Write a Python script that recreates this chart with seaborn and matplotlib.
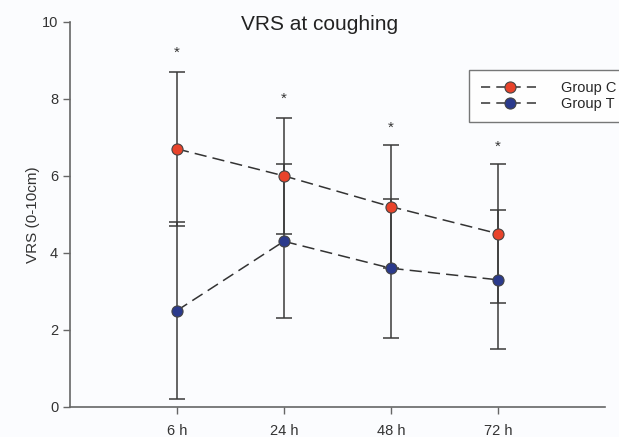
import pandas as pd
import matplotlib.pyplot as plt
import seaborn as sns

# values
times = ['6 h', '24 h', '48 h', '72 h']
group_c = [6.7, 6.0, 5.2, 4.5]
group_c_sd = [2.0, 1.5, 1.6, 1.8]
group_t = [2.5, 4.3, 3.6, 3.3]
group_t_sd = [2.3, 2.0, 1.8, 1.8]
star_y = [9.2, 8.0, 7.25, 6.75]

pos = list(range(1, len(times) + 1))
df = pd.DataFrame({
    'pos': pos * 2,
    'vrs': group_c + group_t,
    'group': ['Group C'] * 4 + ['Group T'] * 4,
})

sns.set_style('white')
plt.rcParams['font.family'] = ['Liberation Sans', 'DejaVu Sans']

fig = plt.figure(figsize=(6.19, 4.37), dpi=100, facecolor='#fbfcfe')
ax = fig.add_axes([0.113, 0.069, 0.864, 0.881])
ax.set_facecolor('#fbfcfe')

colors = {'Group C': '#e8432b', 'Group T': '#2b3a8c'}
sns.lineplot(data=df, x='pos', y='vrs', hue='group', palette=colors,
             marker='o', markersize=8, linewidth=1.1, ax=ax, zorder=3)
lines = [l for l in ax.get_lines() if len(l.get_xdata()) == len(times)]
for line, g in zip(lines, ['Group C', 'Group T']):
    line.set_color('#333333')
    line.set_dashes([8, 4])
    line.set_markerfacecolor(colors[g])
    line.set_markeredgecolor('#444444')
    line.set_markeredgewidth(0.8)

handles, labels = ax.get_legend_handles_labels()
for h, g in zip(handles, labels):
    h.set_color('#333333')
    h.set_dashes([6, 4])
    h.set_markerfacecolor(colors[g])
    h.set_markeredgecolor('#444444')
    h.set_markeredgewidth(0.8)

# error bars, solid, under the markers
ax.errorbar(pos, group_c, yerr=group_c_sd, fmt='none', ecolor='#3a3a3a',
            elinewidth=1.1, capsize=6, capthick=1.1, zorder=2)
ax.errorbar(pos, group_t, yerr=group_t_sd, fmt='none', ecolor='#3a3a3a',
            elinewidth=1.1, capsize=6, capthick=1.1, zorder=2)

for x, y in zip(pos, star_y):
    ax.text(x, y, '*', ha='center', va='center', fontsize=11, color='#333333')

ax.set_xlim(0, 5)
ax.set_ylim(0, 10)
ax.set_xticks(pos)
ax.set_xticklabels(times)
ax.set_yticks([0, 2, 4, 6, 8, 10])
ax.tick_params(axis='both', direction='out', length=5, width=1, color='#666666',
               labelsize=10.5, labelcolor='#333333', left=True, bottom=True)
ax.tick_params(axis='x', pad=7)
ax.set_xlabel('')
ax.set_ylabel('VRS (0-10cm)', fontsize=11, color='#333333', labelpad=1)
ax.set_title('VRS at coughing', fontsize=15, color='#222222', x=0.467, pad=-6)
sns.despine(ax=ax)
for s in ['left', 'bottom']:
    ax.spines[s].set_color('#666666')
    ax.spines[s].set_linewidth(1.2)

ax.legend(handles, labels, loc='upper left', bbox_to_anchor=(0.733, 0.895),
          frameon=True, fancybox=False, edgecolor='#555555', fontsize=10.5,
          handlelength=4, borderpad=0.8, labelspacing=0.1, handletextpad=1.5)

fig.savefig('out.png', dpi=100, facecolor=fig.get_facecolor())
